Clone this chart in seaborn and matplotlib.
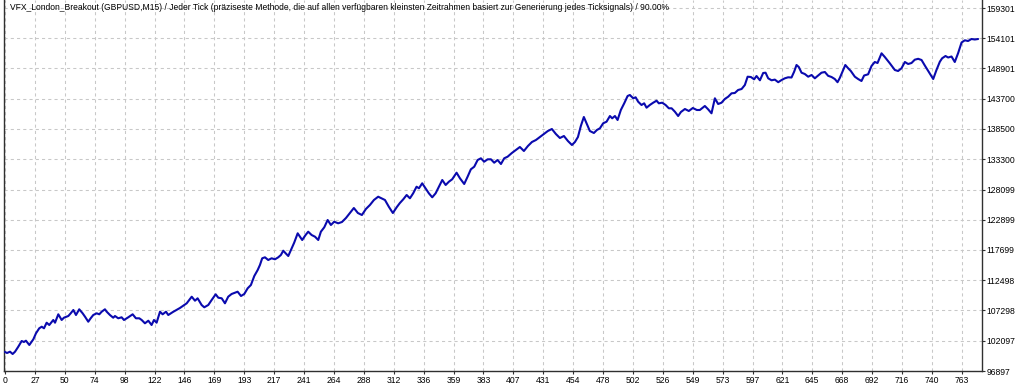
import matplotlib
matplotlib.use("Agg")
import matplotlib.pyplot as plt
import seaborn as sns
import pandas as pd
import numpy as np

title_text = ("VFX_London_Breakout (GBPUSD,M15) / Jeder Tick (präziseste Methode, die auf allen "
              "verfügbaren kleinsten Zeitrahmen basiert zur Generierung jedes Ticksignals) / 90.00%")

trade = [0, 1.6, 4.0, 6.1, 8.0, 10.6, 13.3, 15.1, 16.7, 19.4,
         22.6, 24.7, 27.3, 29.3, 31.1, 33.2, 35.3, 38.5, 39.9, 42.5,
         45.2, 47.0, 50.5, 52.4, 54.5, 56.6, 59.2, 61.9, 63.8, 66.4,
         68.3, 70.4, 73.1, 75.2, 77.1, 79.7, 81.1, 83.7, 86.3, 87.7,
         90.3, 93.0, 94.9, 98.3, 101.8, 104.4, 107.1, 109.0, 111.6, 114.3,
         116.9, 118.8, 120.9, 123.6, 125.7, 128.4, 130.2, 133.9, 139.5, 144.9,
         148.9, 151.5, 153.6, 156.8, 158.9, 162.1, 164.8, 168.0, 170.1, 172.8,
         175.4, 178.0, 180.7, 183.4, 185.5, 188.2, 190.8, 193.5, 196.1, 198.8,
         201.5, 203.3, 205.1, 207.3, 209.9, 212.6, 215.3, 217.9, 220.0, 221.9,
         223.8, 225.9, 228.0, 230.6, 233.4, 235.2, 237.0, 239.7, 241.8, 244.5,
         247.2, 249.8, 251.9, 254.6, 257.3, 259.9, 262.5, 265.7, 268.7, 271.9,
         275.1, 278.2, 281.4, 284.6, 287.8, 291.0, 294.2, 297.6, 300.3, 303.0,
         306.2, 309.3, 312.5, 314.9, 317.6, 320.3, 322.9, 325.5, 328.2, 330.1,
         332.7, 335.4, 338.0, 340.7, 343.4, 346.0, 348.7, 351.4, 354.0, 356.6,
         360.1, 362.8, 366.2, 368.9, 371.5, 374.2, 376.9, 379.5, 382.1, 384.9,
         387.5, 390.1, 392.8, 395.5, 398.1, 400.8, 404.2, 407.4, 410.6, 413.8,
         417.0, 420.2, 423.4, 426.6, 429.7, 432.9, 436.1, 439.3, 442.5, 445.7,
         448.9, 452.1, 454.5, 456.9, 459.2, 461.6, 464.0, 466.4, 469.6, 472.0,
         474.4, 477.0, 479.7, 482.4, 484.2, 486.4, 488.5, 491.1, 493.8, 496.5,
         498.3, 501.0, 502.9, 504.9, 507.6, 509.7, 511.6, 514.2, 516.9, 519.6,
         521.4, 524.1, 526.8, 529.4, 531.6, 534.2, 536.8, 539.0, 542.2, 545.3,
         548.5, 551.7, 554.1, 558.1, 560.7, 563.4, 566.1, 568.7, 571.4, 574.0,
         576.7, 579.4, 582.0, 584.6, 587.4, 590.0, 592.2, 594.8, 597.4, 599.3,
         602.0, 604.6, 606.5, 608.6, 611.3, 613.9, 616.6, 619.3, 621.9, 624.5,
         627.2, 629.3, 631.2, 633.0, 635.2, 637.8, 640.5, 643.2, 645.8, 648.4,
         651.1, 653.8, 656.4, 659.1, 661.7, 663.9, 665.7, 668.4, 670.1, 672.4,
         674.5, 677.7, 680.3, 683.0, 685.1, 688.3, 691.0, 693.6, 695.8, 699.0,
         701.6, 705.6, 709.6, 712.2, 714.9, 717.6, 720.2, 722.9, 725.5, 728.2,
         730.9, 733.5, 736.7, 740.2, 742.8, 745.5, 747.3, 750.0, 752.1, 754.8,
         757.4, 760.1, 762.8, 765.4, 768.0, 770.7, 773.4, 776.0]

balance = [100164, 99992, 100216, 99820, 100216, 101075, 102055, 101883, 102107, 101367,
           102347, 103378, 104238, 104513, 104238, 105201, 104805, 105665, 105201, 106645,
           105665, 106060, 106352, 106816, 107384, 106524, 107504, 106816, 106232, 105372,
           105957, 106524, 106816, 106645, 107092, 107504, 107092, 106524, 106060, 106352,
           105957, 106128, 105665, 106128, 106645, 105957, 105957, 105665, 105098, 105544,
           104805, 105665, 105201, 107092, 106645, 107092, 106524, 107040, 107728, 108535,
           109670, 108983, 109395, 108243, 107848, 108243, 109103, 110083, 109498, 109395,
           108535, 109670, 110134, 110358, 110530, 109791, 110134, 111114, 111682, 113229,
           114260, 115120, 116271, 116443, 115979, 116271, 116100, 116443, 116839, 117577,
           117131, 116667, 117698, 118953, 120569, 119985, 119418, 120277, 120844, 120277,
           119985, 119418, 120844, 121601, 122856, 121996, 122564, 122288, 122512, 123200,
           124059, 124919, 124059, 123715, 124747, 125434, 126294, 126861, 126586, 126294,
           125091, 124059, 125091, 125778, 126414, 127154, 126586, 127446, 128580, 128305,
           129165, 128305, 127446, 126758, 127446, 128580, 129732, 128873, 129440, 129852,
           130987, 130024, 129045, 130300, 131571, 132019, 133170, 133463, 132878, 133291,
           133291, 132706, 133170, 132483, 133463, 133738, 134374, 134889, 135405, 134718,
           135577, 136265, 136609, 137124, 137640, 138156, 138500, 137640, 136952, 137296,
           136437, 135749, 136265, 137124, 139015, 140563, 139359, 138156, 137812, 138328,
           138620, 139479, 139754, 140734, 140339, 140734, 140047, 141766, 142918, 144173,
           144345, 143777, 143949, 143193, 142625, 142918, 142161, 142625, 143021, 143365,
           142918, 143021, 142625, 142058, 142058, 141474, 140734, 141422, 141938, 141594,
           142110, 141766, 141766, 142454, 141886, 141199, 143777, 142797, 143021, 143657,
           144052, 144637, 144688, 145204, 145376, 146064, 147490, 147439, 147043, 147611,
           146872, 148127, 148178, 147215, 146872, 146992, 146545, 146923, 147215, 147387,
           147353, 148350, 149502, 149158, 148178, 147955, 147490, 147783, 147215, 147697,
           148178, 148298, 147645, 147439, 147095, 146545, 147267, 148642, 149502, 148935,
           148470, 147490, 147095, 146751, 147697, 147903, 149330, 150018, 149846, 151513,
           150877, 149794, 148642, 148470, 148935, 150018, 149674, 149846, 150413, 150568,
           150361, 149416, 148298, 147095, 148642, 150069, 150654, 151049, 150791, 150963,
           150018, 151565, 153370, 153748, 153628, 153972, 153886, 153972]

x_tick_labels = ["0", "27", "50", "74", "98", "122", "146", "169", "193", "217", "241",
                 "264", "288", "312", "336", "359", "383", "407", "431", "454", "478",
                 "502", "526", "549", "573", "597", "621", "645", "668", "692", "716",
                 "740", "763"]
y_tick_labels = ["96897", "102097", "107298", "112498", "117699", "122899", "128099",
                 "133300", "138500", "143700", "148901", "154101", "159301"]

sns.set_theme(style="white")
plt.rcParams["font.family"] = ["Liberation Sans", "DejaVu Sans"]

W, H = 1024, 387
fig = plt.figure(figsize=(W / 100, H / 100), dpi=100)
fig.patch.set_facecolor("white")
ax_left, ax_right, ax_bottom, ax_top = 3.5, 982, 371, 0
ax = fig.add_axes([ax_left / W, (H - ax_bottom) / H, (ax_right - ax_left) / W, (ax_bottom - ax_top) / H])
ax.set_facecolor("white")

df = pd.DataFrame({"trade": trade, "balance": balance})
sns.lineplot(data=df, x="trade", y="balance", ax=ax, color="#0A0AAE", linewidth=1.5,
             estimator=None, sort=False, zorder=3)

# x scale: grid spacing in trades
last_label = float(x_tick_labels[-1])
step = last_label / (len(x_tick_labels) - 1)
xt = np.arange(len(x_tick_labels)) * step
ax.set_xticks(xt)
ax.set_xticklabels(x_tick_labels)
px_per_trade = (32 * 29.9) / last_label
ax.set_xlim((ax_left - 5) / px_per_trade, (ax_right - 5) / px_per_trade)

yt = [float(v) for v in y_tick_labels]
ax.set_yticks(yt)
ax.set_yticklabels(y_tick_labels)
val_per_px = (yt[-1] - yt[0]) / (371 - 8)
ax.set_ylim(yt[0], yt[-1] + 8 * val_per_px)

ax.yaxis.tick_right()
ax.grid(True, color="#C8C8C8", linestyle=(0, (3, 3)), linewidth=0.75, zorder=0)
ax.set_xlabel("")
ax.set_ylabel("")

for s in ["left", "bottom", "right"]:
    ax.spines[s].set_visible(True)
    ax.spines[s].set_color("#303030")
    ax.spines[s].set_linewidth(1.0)
ax.spines["top"].set_visible(False)

ax.tick_params(axis="x", which="both", bottom=True, length=2.5, width=0.8, color="#303030",
               pad=1.0, labelsize=6.2, labelcolor="#000000", direction="out")
ax.tick_params(axis="y", which="both", right=True, left=False, length=2.5, width=0.8,
               color="#303030", pad=1.0, labelsize=6.2, labelcolor="#000000", direction="out")
for lbl in ax.get_yticklabels():
    lbl.set_horizontalalignment("left")

ax.text(6 / (ax_right - ax_left), 1 - 2.5 / ax_bottom, title_text, transform=ax.transAxes,
        ha="left", va="top", fontsize=6.15, color="#000000", zorder=5)

fig.savefig("out.png", dpi=100, facecolor="white")
